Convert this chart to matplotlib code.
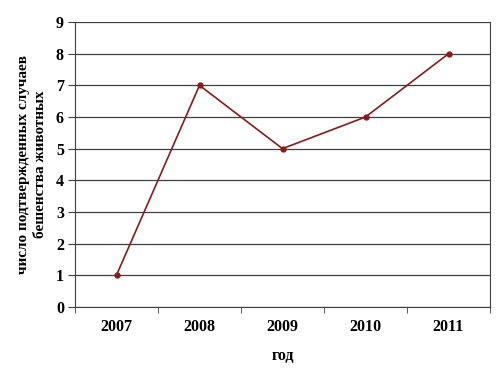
import matplotlib.pyplot as plt
import numpy as np

plt.rcParams['font.family'] = ['Liberation Serif', 'DejaVu Serif']

years = ['2007', '2008', '2009', '2010', '2011']
cases = [1, 7, 5, 6, 8]

fig = plt.figure(figsize=(5, 3.75), dpi=100)
ax = fig.add_axes([0.15, 0.182, 0.83, 0.759])

x = np.arange(len(years))
ax.plot(x, cases, color='#8B1A1A', lw=1.2, marker='o', ms=3.5, zorder=3)

ax.set_xlim(-0.5, len(years) - 0.5)
ax.set_ylim(0, 9)
ax.set_yticks(range(0, 10))
ax.set_xticks(x)
ax.set_xticklabels(years, fontweight='bold', fontsize=11.5)
ax.set_xticks(np.arange(-0.5, len(years)), minor=True)
ax.tick_params(axis='x', which='major', length=0, pad=9)
ax.tick_params(axis='x', which='minor', length=4, direction='out', color='#404040')
ax.tick_params(axis='y', length=5, direction='out', color='#404040', labelsize=11.5, pad=3)
for lab in ax.get_yticklabels():
    lab.set_fontweight('bold')

ax.grid(axis='y', color='#404040', lw=0.9)
ax.set_axisbelow(True)
for s in ['left', 'bottom', 'right']:
    ax.spines[s].set_color('#404040')
ax.spines['top'].set_visible(False)

ax.set_xlabel('год', fontweight='bold', fontsize=11.5, labelpad=9)
ax.set_ylabel('число подтвержденных случаев\nбешенства животных', fontweight='bold',
              fontsize=11, labelpad=6, linespacing=1.45)

fig.savefig('out.png')
